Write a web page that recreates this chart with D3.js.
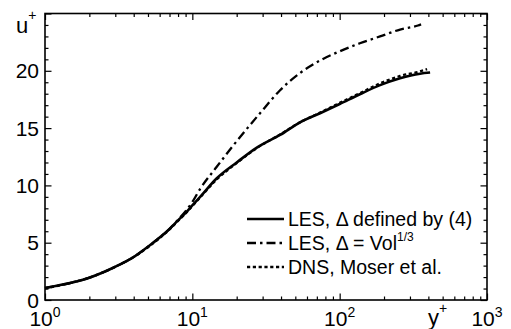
<!DOCTYPE html>
<html><head><meta charset="utf-8">
<script src="https://cdn.jsdelivr.net/npm/d3@7"></script>
<style>
body{margin:0;background:#fff}
svg{display:block}
text{font-family:"Liberation Sans",Arial,Helvetica,sans-serif;fill:#000}
</style>
</head><body>
<svg id="c" width="511" height="329"></svg>
<script>
// ---- data ----
const lesYPlus = [1,1.5,2,3,4,5,6,7,8,9,10,11.3,14.6,20,27.4,39.4,53.8,73.6,100,137,188,257,351,411];
const lesU     = [1.05,1.5,1.95,2.9,3.75,4.65,5.45,6.2,6.95,7.6,8.25,9.0,10.6,12.0,13.3,14.4,15.5,16.3,17.1,17.95,18.75,19.35,19.75,19.85];

const volYPlus = [1,1.5,2,3,4,5,6,7,8,9,10,11.3,14.6,19,28.8,39.4,53.8,73.6,100,137,188,257,340,357];
const volU     = [1.05,1.5,1.95,2.9,3.75,4.65,5.45,6.2,7.0,7.75,8.55,9.7,11.6,13.5,16.3,18.3,19.8,20.9,21.7,22.4,23.0,23.6,23.95,24.05];

const dnsYPlus = [1,1.5,2,3,4,5,6,7,8,9,10,11.3,14.6,20,27.4,39.4,53.8,73.6,100,137,188,257,351,392];
const dnsU     = [1.0,1.5,1.95,2.9,3.75,4.6,5.4,6.15,6.9,7.55,8.2,8.95,10.5,11.95,13.25,14.45,15.5,16.35,17.2,18.05,18.9,19.55,19.95,20.15];

const xTickExponents = [0,1,2,3];
const yTickValues = [0,5,10,15,20];
const yMinorValues = d3.range(0,26).filter(v => v % 5 !== 0);
const legendLabels = ["LES, \u0394 defined by (4)", "LES, \u0394 = Vol", "DNS, Moser et al."];

// ---- layout ----
const svg = d3.select("#c");
const x = d3.scaleLog().domain([1,1000]).range([45,487]);
const y = d3.scaleLinear().domain([0,25]).range([300,13.5]);

const xMinor = [];
for (let e = 0; e < 3; e++) for (let k = 2; k <= 9; k++) xMinor.push(k * Math.pow(10,e));
const xMajor = xTickExponents.map(e => Math.pow(10,e));

function axisG(axis, tx, ty) {
  const g = svg.append("g").attr("transform", `translate(${tx},${ty})`).call(axis);
  g.select(".domain").remove();
  g.selectAll("line").attr("stroke","#000").attr("stroke-width",1.2);
  g.selectAll("text").remove();
  return g;
}
// major ticks (inward) on all four sides
axisG(d3.axisBottom(x).tickValues(xMajor).tickSize(-6.5).tickFormat(""), 0, y(0));
axisG(d3.axisTop(x).tickValues(xMajor).tickSize(-6.5).tickFormat(""), 0, y(25));
axisG(d3.axisLeft(y).tickValues(yTickValues.concat([25])).tickSize(-6.5).tickFormat(""), x(1), 0);
axisG(d3.axisRight(y).tickValues(yTickValues.concat([25])).tickSize(-6.5).tickFormat(""), x(1000), 0);
// minor ticks
axisG(d3.axisBottom(x).tickValues(xMinor).tickSize(-3.5).tickFormat(""), 0, y(0));
axisG(d3.axisTop(x).tickValues(xMinor).tickSize(-3.5).tickFormat(""), 0, y(25));
axisG(d3.axisLeft(y).tickValues(yMinorValues).tickSize(-3.5).tickFormat(""), x(1), 0);
axisG(d3.axisRight(y).tickValues(yMinorValues).tickSize(-3.5).tickFormat(""), x(1000), 0);

// frame
svg.append("rect")
  .attr("x", x(1)).attr("y", y(25))
  .attr("width", x(1000) - x(1)).attr("height", y(0) - y(25))
  .attr("fill","none").attr("stroke","#000").attr("stroke-width",1.6);

// tick labels
xTickExponents.forEach(e => {
  const t = svg.append("text").attr("x", x(Math.pow(10,e))).attr("y", 326)
    .attr("text-anchor","middle").attr("font-size",21);
  t.append("tspan").text("10");
  t.append("tspan").attr("font-size",14).attr("dy",-9).text(String(e));
});
yTickValues.forEach(v => {
  svg.append("text").attr("x", 39).attr("y", y(v) + 7.5)
    .attr("text-anchor","end").attr("font-size",21).text(String(v));
});
// axis titles
const ut = svg.append("text").attr("x", 16).attr("y", 33).attr("font-size",22);
ut.append("tspan").text("u");
ut.append("tspan").attr("font-size",14).attr("dy",-13).text("+");
const yt = svg.append("text").attr("x", 428).attr("y", 325).attr("font-size",22);
yt.append("tspan").text("y");
yt.append("tspan").attr("font-size",14).attr("dy",-12).text("+");

// curves
const line = d3.line().x(d => x(d[0])).y(d => y(d[1])).curve(d3.curveMonotoneX);
const styles = [
  {w:2.6, dash:null},
  {w:2.3, dash:"9,4,2.5,4"},
  {w:2.3, dash:"3.2,2.6"}
];
const series = [
  d3.zip(dnsYPlus, dnsU),
  d3.zip(volYPlus, volU),
  d3.zip(lesYPlus, lesU)
];
const seriesStyle = [styles[2], styles[1], styles[0]];
series.forEach((s,i) => {
  svg.append("path").attr("d", line(s)).attr("fill","none")
    .attr("stroke","#000").attr("stroke-width", seriesStyle[i].w)
    .attr("stroke-dasharray", seriesStyle[i].dash);
});

// legend
const legRows = [219, 243, 267];
legendLabels.forEach((lab,i) => {
  svg.append("line").attr("x1",247).attr("x2",284).attr("y1",legRows[i]).attr("y2",legRows[i])
    .attr("stroke","#000").attr("stroke-width", styles[i].w).attr("stroke-dasharray", styles[i].dash);
  const t = svg.append("text").attr("x",288).attr("y",legRows[i] + 7).attr("font-size",19.5);
  t.append("tspan").text(lab);
  if (i === 1) t.append("tspan").attr("font-size",12).attr("dy",-9).text("1/3");
});
</script>
</body></html>
